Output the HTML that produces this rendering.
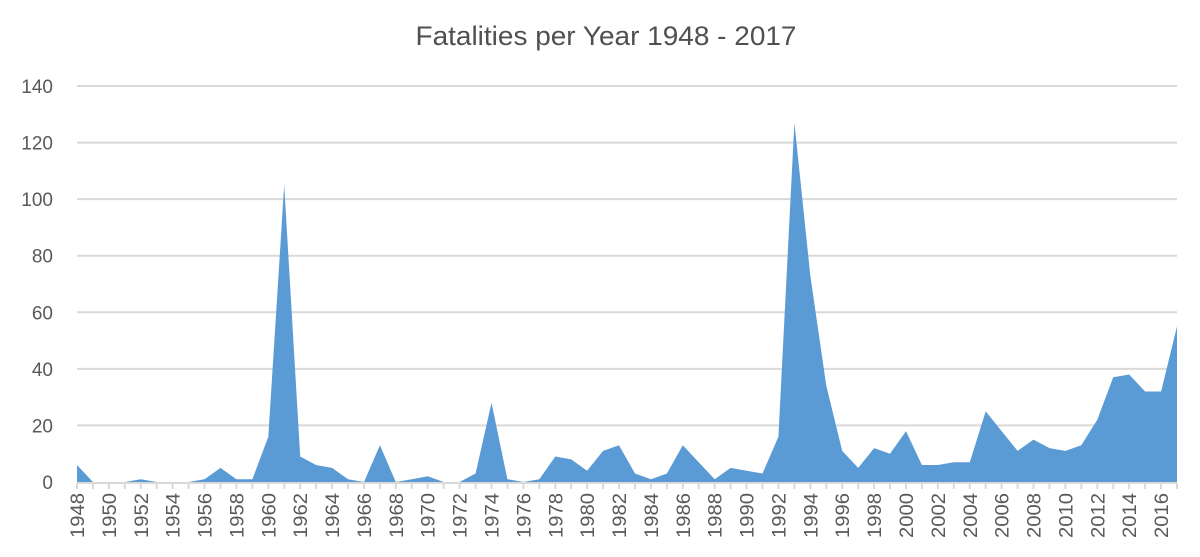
<!DOCTYPE html>
<html><head><meta charset="utf-8"><style>
html,body{margin:0;padding:0;background:#fff;}
svg{display:block;font-family:"Liberation Sans",sans-serif;}
</style></head><body>
<svg id="c" width="1200" height="557" viewBox="0 0 1200 557" xmlns="http://www.w3.org/2000/svg">
<text x="606" y="45" font-size="27" fill="#505050" text-anchor="middle" textLength="381" lengthAdjust="spacingAndGlyphs">Fatalities per Year 1948 - 2017</text>
<g id="grid"></g>
<path id="area" fill="#5b9bd5"/>
<g id="ax"></g>
</svg>
<script>
var d=[6,0,0,0,1,0,0,0,1,5,1,1,16,105,9,6,5,1,0,13,0,1,2,0,0,3,28,1,0,1,9,8,4,11,13,3,1,3,13,7,1,5,4,3,16,127,73,34,11,5,12,10,18,6,6,7,7,25,18,11,15,12,11,13,22,37,38,32,32,55];
var x0=77,dx=1100/69,y0=482,k=(482-86)/140;
function X(i){return x0+i*dx}function Y(v){return y0-v*k}
var g=document.getElementById('grid'),a=document.getElementById('ax'),h='',t='';
for(var v=20;v<=140;v+=20){h+='<line x1="77" x2="1177" y1="'+Y(v)+'" y2="'+Y(v)+'" stroke="#d9d9d9" stroke-width="2"/>';}
for(var v=0;v<=140;v+=20){h+='<text x="53" y="'+(Y(v)+7)+'" font-size="19" fill="#595959" text-anchor="end">'+v+'</text>';}
g.innerHTML=h;
var p='M'+X(0)+','+y0;for(var i=0;i<d.length;i++)p+=' L'+X(i).toFixed(1)+','+Y(d[i]).toFixed(1);p+=' L'+X(69)+','+y0+'Z';
document.getElementById('area').setAttribute('d',p);
t+='<line x1="77" x2="1177" y1="483" y2="483" stroke="#d9d9d9" stroke-width="2"/>';
for(var i=0;i<70;i++){t+='<line x1="'+X(i)+'" x2="'+X(i)+'" y1="483" y2="489" stroke="#d9d9d9" stroke-width="2"/>';
if(i%2==0){var xx=X(i)+7;t+='<text transform="translate('+xx+',538) rotate(-90)" font-size="19" fill="#595959" textLength="45" lengthAdjust="spacingAndGlyphs">'+(1948+i)+'</text>';}}
a.innerHTML=t;
</script>
</body></html>
